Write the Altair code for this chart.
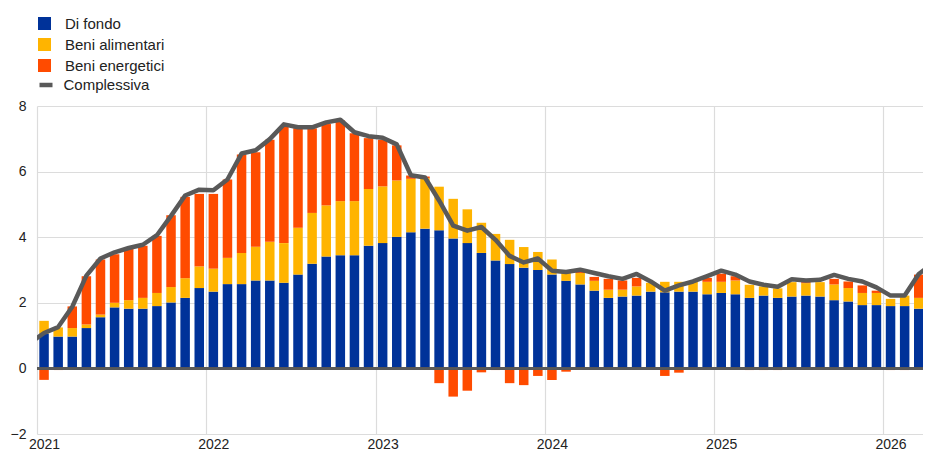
import altair as alt
import pandas as pd

# Monthly categories (bars): Jan 2021 .. Apr 2026
months = pd.period_range("2021-01", "2026-04", freq="M").strftime("%Y-%m").tolist()

core = [1.06, 0.97, 0.97, 1.23, 1.56, 1.86, 1.82, 1.82, 1.90, 2.01, 2.15, 2.45,
        2.34, 2.57, 2.57, 2.68, 2.68, 2.61, 2.86, 3.19, 3.41, 3.45, 3.45, 3.74,
        3.82, 4.01, 4.15, 4.26, 4.21, 3.96, 3.82, 3.52, 3.29, 3.18, 3.07, 3.00,
        2.86, 2.67, 2.56, 2.37, 2.15, 2.19, 2.22, 2.34, 2.32, 2.34, 2.34, 2.26,
        2.30, 2.26, 2.15, 2.22, 2.15, 2.19, 2.22, 2.19, 2.08, 2.04, 1.93, 1.93,
        1.90, 1.90, 1.82, 1.70]
food = [0.39, 0.28, 0.26, 0.11, 0.08, 0.14, 0.26, 0.33, 0.40, 0.47, 0.60, 0.66,
        0.70, 0.80, 0.95, 1.03, 1.18, 1.21, 1.43, 1.55, 1.56, 1.65, 1.65, 1.73,
        1.73, 1.72, 1.63, 1.54, 1.33, 1.21, 1.03, 0.92, 0.81, 0.74, 0.63, 0.55,
        0.46, 0.27, 0.35, 0.30, 0.25, 0.21, 0.28, 0.27, 0.32, 0.30, 0.31, 0.38,
        0.34, 0.42, 0.40, 0.28, 0.29, 0.44, 0.38, 0.44, 0.48, 0.41, 0.37, 0.37,
        0.22, 0.32, 0.33, 0.35]
energy = [-0.35, -0.05, 0.66, 1.47, 1.68, 1.48, 1.56, 1.59, 1.74, 2.19, 2.48, 2.21,
          2.28, 2.39, 3.00, 2.88, 3.11, 3.57, 3.03, 2.58, 2.48, 2.46, 2.07, 1.55,
          1.42, 1.07, 0.10, 0.05, -0.45, -0.86, -0.68, -0.12, -0.05, -0.45, -0.51, -0.23,
          -0.35, -0.10, 0.07, 0.12, 0.33, 0.28, 0.26, 0.00, -0.23, -0.13, 0.00, 0.12,
          0.25, 0.13, -0.05, -0.05, -0.05, 0.00, 0.03, 0.00, 0.17, 0.20, 0.23, 0.07,
          -0.05, -0.05, 0.71, 1.10]

# Headline line: Dec 2020 .. Apr 2026
line_months = ["2020-12"] + months
total = [0.78,
         1.08, 1.26, 1.88, 2.83, 3.35, 3.54, 3.67, 3.77, 4.06, 4.65, 5.27, 5.45,
         5.43, 5.76, 6.55, 6.65, 6.99, 7.44, 7.35, 7.35, 7.50, 7.58, 7.20, 7.08,
         7.03, 6.83, 5.89, 5.82, 5.12, 4.35, 4.20, 4.31, 3.92, 3.43, 3.23, 3.35,
         2.98, 2.94, 3.01, 2.91, 2.81, 2.73, 2.88, 2.65, 2.37, 2.53, 2.65, 2.81,
         2.98, 2.86, 2.65, 2.55, 2.49, 2.72, 2.68, 2.70, 2.85, 2.73, 2.65, 2.47,
         2.22, 2.22, 2.88, 3.20]

series_names = ["Di fondo", "Beni alimentari", "Beni energetici"]
series_colors = ["#003299", "#FFB400", "#FF4B00"]
line_name = "Complessiva"
line_color = "#595959"
y_ticks = [-2, 0, 2, 4, 6, 8]

rows = []
for i, m in enumerate(months):
    for k, (name, vals) in enumerate(zip(series_names, [core, food, energy])):
        rows.append({"month": m, "t": i + 0.5, "series": name, "order": k, "value": vals[i]})
bars_df = pd.DataFrame(rows)
line_df = pd.DataFrame({
    "month": line_months,
    "t": [i - 0.5 for i in range(len(line_months))],
    "series": line_name,
    "value": total,
})

FONT = "Liberation Sans"

x_scale = alt.Scale(domain=[0, 62.8], nice=False, zero=False, padding=0)
x_axis = alt.Axis(
    values=[0, 12, 24, 36, 48, 60],
    labelExpr="'' + (2021 + datum.value / 12)",
    grid=True, ticks=False, domain=False, title=None,
    labelOffset=7, labelPadding=3, labelFlush=False, labelOverlap=False,
)
y_scale = alt.Scale(domain=[-2, 8], nice=False, zero=False, padding=0)
y_axis = alt.Axis(values=y_ticks, grid=True, ticks=False, domain=False,
                  title=None, labelPadding=11)

bars = alt.Chart(bars_df).mark_bar(size=9.5, clip=True).encode(
    x=alt.X("t:Q", scale=x_scale, axis=x_axis),
    y=alt.Y("value:Q", stack="zero", scale=y_scale, axis=y_axis),
    color=alt.Color(
        "series:N",
        scale=alt.Scale(domain=series_names, range=series_colors),
        legend=alt.Legend(
            orient="none", legendX=0, legendY=-90, title=None,
            symbolType="square", symbolSize=169, symbolStrokeWidth=0,
            labelFontSize=15, labelOffset=13, rowPadding=5, padding=0,
            labelFont=FONT, labelColor="#222222",
        ),
    ),
    order=alt.Order("order:Q"),
)

zero = alt.Chart(bars_df).mark_rule(color="#595959", strokeWidth=1.5).encode(
    y=alt.datum(0, scale=y_scale, axis=y_axis),
)

line = alt.Chart(line_df).mark_line(strokeWidth=4.5, clip=True, strokeJoin="round").encode(
    x=alt.X("t:Q", scale=x_scale, axis=x_axis),
    y=alt.Y("value:Q", scale=y_scale, axis=y_axis),
    stroke=alt.Stroke(
        "series:N",
        scale=alt.Scale(domain=[line_name], range=[line_color]),
        legend=alt.Legend(
            orient="none", legendX=0, legendY=-30, title=None,
            symbolType="stroke", symbolSize=169, symbolStrokeWidth=4.5,
            labelFontSize=15, labelOffset=8.5, padding=0,
            labelFont=FONT, labelColor="#222222",
        ),
    ),
)

chart = alt.layer(bars, zero, line).properties(
    width=886, height=328,
    autosize=alt.AutoSizeParams(type="none"),
    padding={"left": 29, "top": 98, "right": 0, "bottom": 17},
).configure_view(stroke=None).configure_axis(
    gridColor="#dcdcdc", gridWidth=1.2,
    labelFont=FONT, labelFontSize=14, labelColor="#222222",
).configure_legend(labelFont=FONT)

chart.save("out.html", embed_options={"renderer": "svg", "actions": False})
